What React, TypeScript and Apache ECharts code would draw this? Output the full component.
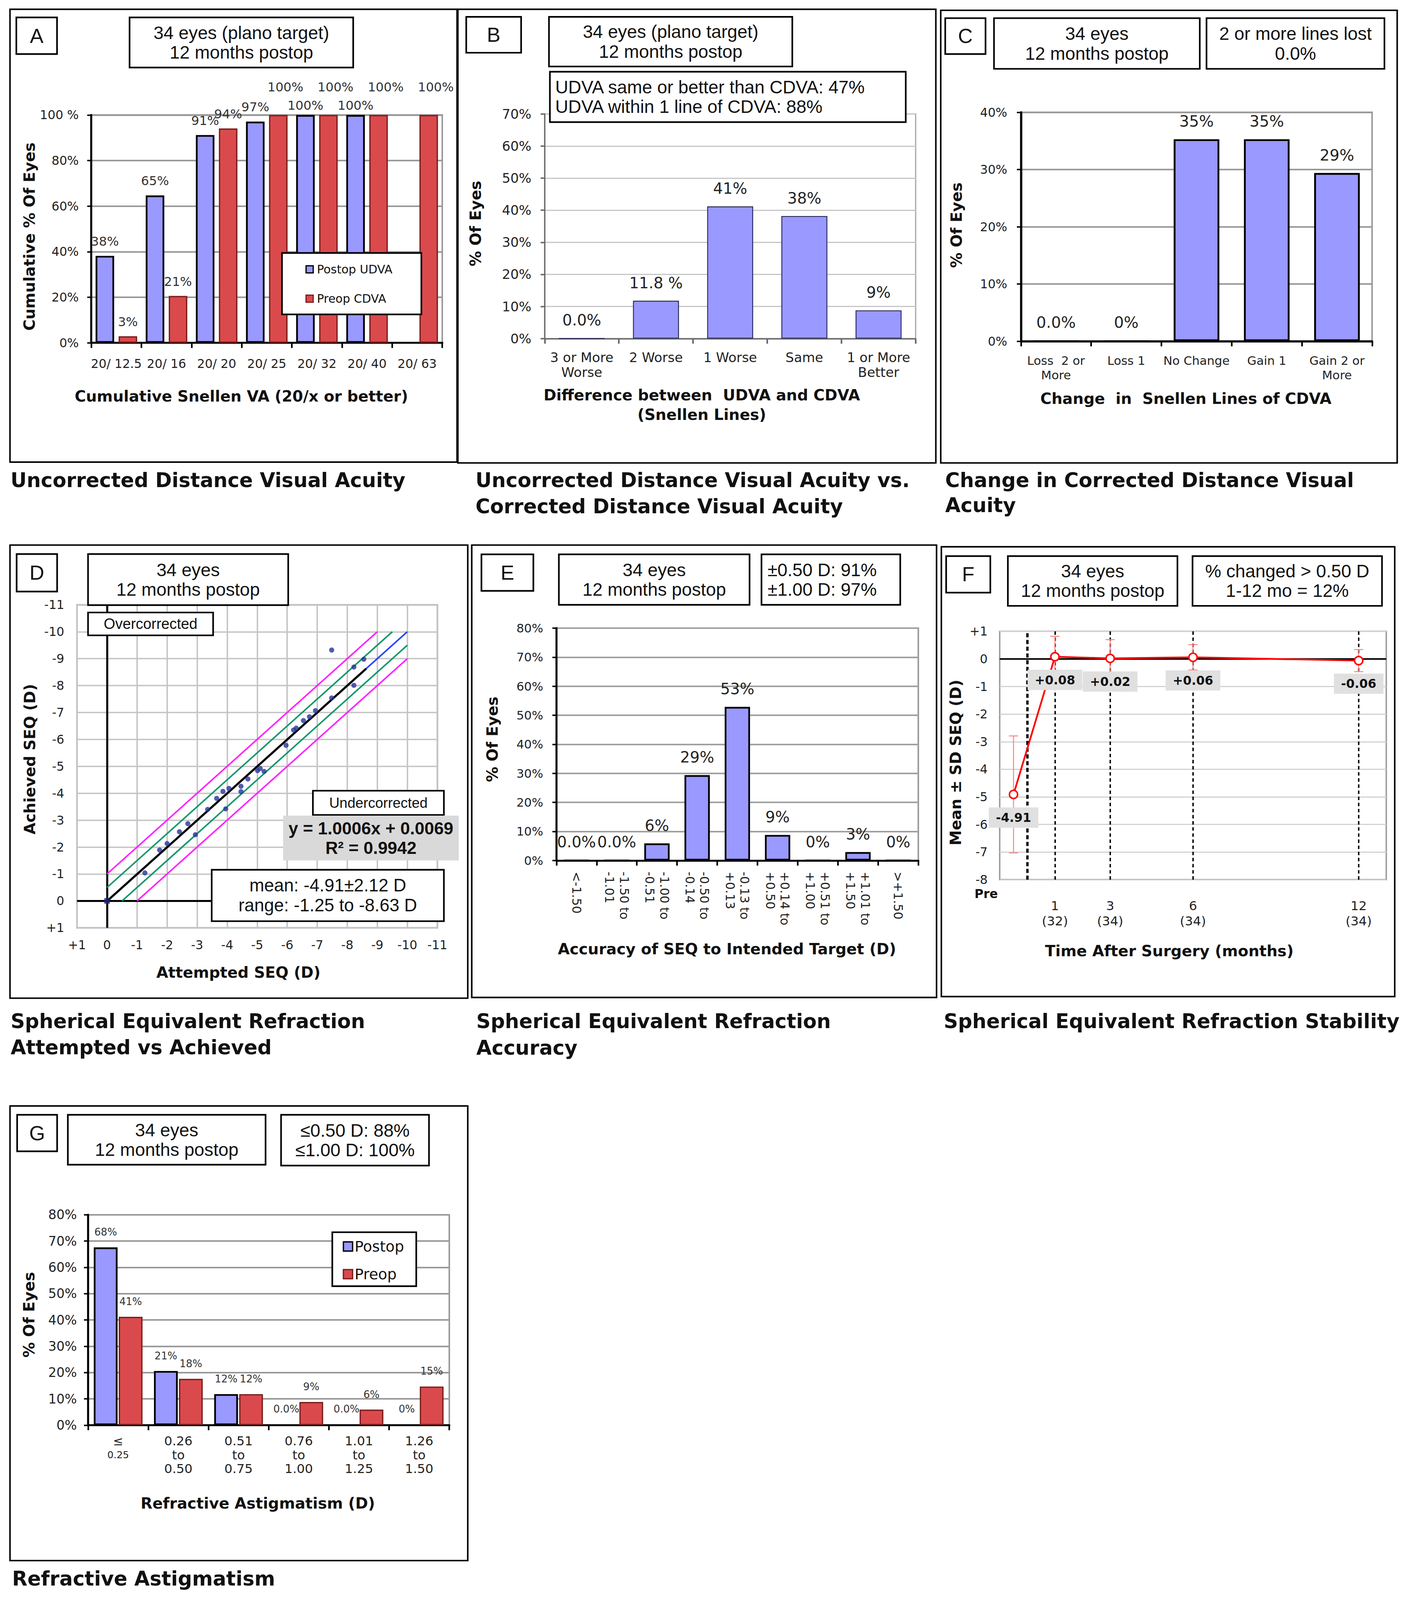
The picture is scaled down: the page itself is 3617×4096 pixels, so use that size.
import React, { useEffect, useRef } from 'react';
import * as echarts from 'echarts';

const W = 3617;
const H = 4096;
const K = W / 1385;
const p = (v: number): number => v * K;

const FONT = 'DejaVu Sans';
const ARIAL = 'Liberation Sans';
const BLUE = '#9999FF';
const RED = '#DA4A4C';
const RED_EDGE = '#7d1e1e';
const INK = '#222222';

// ---------------- Panel A: cumulative UDVA ----------------
const categoriesA = ['20/ 12.5', '20/ 16', '20/ 20', '20/ 25', '20/ 32', '20/ 40', '20/ 63'];
const postopUdvaA: (number | null)[] = [38.2, 64.7, 91.2, 97.1, 100, 100, null];
const preopCdvaA = [2.9, 20.6, 94.1, 100, 100, 100, 100];
const yTicksA = ['0%', '20%', '40%', '60%', '80%', '100 %'];

// ---------------- Panel B: UDVA vs CDVA ----------------
const categoriesB = ['3 or More\nWorse', '2 Worse', '1 Worse', 'Same', '1 or More\nBetter'];
const valuesB = [0, 11.8, 41.2, 38.2, 8.8];
const labelsB = ['0.0%', '11.8 %', '41%', '38%', '9%'];

// ---------------- Panel C: change in CDVA ----------------
const categoriesC = ['Loss  2 or\nMore', 'Loss 1', 'No Change', 'Gain 1', 'Gain 2 or\nMore'];
const valuesC = [0, 0, 35.3, 35.3, 29.4];
const labelsC = ['0.0%', '0%', '35%', '35%', '29%'];

// ---------------- Panel D: attempted vs achieved ----------------
const attemptedD = [-1.26, -1.75, -2.0, -2.41, -2.69, -2.94, -3.35, -3.65, -3.86, -3.95, -4.06, -4.46, -4.46, -4.69, -5.01, -5.1, -5.23, -5.96, -6.21, -6.3, -6.54, -6.74, -6.94, -7.48, -7.48, -8.22, -8.22, -8.55];
const achievedD = [-1.04, -1.89, -2.13, -2.57, -2.87, -2.46, -3.4, -3.81, -4.07, -3.42, -4.18, -4.26, -4.06, -4.53, -4.84, -4.92, -4.81, -5.78, -6.35, -6.42, -6.7, -6.84, -7.07, -7.54, -9.32, -8.69, -8.01, -8.98];
const originD = [[0, 0]];
const regressionSlopeD = 1.0006;
const regressionInterceptD = 0.0069;
const regressionEndD = -8.63;
const bandOffsetsD = [-1, -0.5, 0, 0.5, 1];
const bandColorsD = ['#ff22ff', '#13976a', '#2244ff', '#13976a', '#ff22ff'];

// ---------------- Panel E: SEQ accuracy ----------------
const categoriesE = ['<-1.50', '-1.50 to\n-1.01', '-1.00 to\n-0.51', '-0.50 to\n-0.14', '-0.13 to\n+0.13', '+0.14 to\n+0.50', '+0.51 to\n+1.00', '+1.01 to\n+1.50', '>+1.50'];
const valuesE = [0, 0, 5.9, 29.4, 52.9, 8.8, 0, 2.9, 0];
const labelsE = ['0.0%', '0.0%', '6%', '29%', '53%', '9%', '0%', '3%', '0%'];

// ---------------- Panel F: stability ----------------
const monthsF = [-0.5, 1, 3, 6, 12];
const meanF = [-4.91, 0.08, 0.02, 0.06, -0.06];
const sdF = [2.12, 0.74, 0.68, 0.46, 0.4];
const labelsF = ['-4.91', '+0.08', '+0.02', '+0.06', '-0.06'];
const tickMonthsF = [1, 3, 6, 12];
const tickEyesF = [32, 34, 34, 34];
const dashedMonthsF = [0, 1, 3, 6, 12];

// ---------------- Panel G: astigmatism ----------------
const categoriesG = ['≤ 0.25', '0.26 to 0.50', '0.51 to 0.75', '0.76 to 1.00', '1.01 to 1.25', '1.26 to 1.50'];
const postopG = [67.6, 20.6, 11.8, 0, 0, 0];
const preopG = [41.2, 17.6, 11.8, 8.8, 5.9, 14.7];
const labelsPostopG = ['68%', '21%', '12%', '0.0%', '0.0%', '0%'];
const labelsPreopG = ['41%', '18%', '12%', '9%', '6%', '15%'];

// ---------------- helpers ----------------
const pct = (v: number) => `${v}%`;
const signed = (v: number) => (v > 0 ? `+${v}` : `${v}`);

function gridBox(x1: number, y1: number, x2: number, y2: number, color: string, w: number) {
  return {
    left: p(x1), top: p(y1), width: p(x2 - x1), height: p(y2 - y1),
    show: true, borderColor: color, borderWidth: p(w), backgroundColor: 'rgba(0,0,0,0)',
    containLabel: false, outerBoundsMode: 'none',
  };
}

function catAxis(grid: number, data: string[], o: any = {}) {
  const c = o.axisColor ?? '#000';
  return {
    gridIndex: grid, type: 'category', data,
    axisLine: { show: true, lineStyle: { color: c, width: p(o.axisW ?? 2) } },
    axisTick: { show: true, interval: 0, length: p(5), lineStyle: { color: c, width: p(1.6) } },
    axisLabel: {
      interval: 0, fontSize: p(o.size ?? 12), margin: p(o.margin ?? 12), color: INK,
      lineHeight: p(o.lh ?? 15), rotate: o.rotate ?? 0, fontFamily: FONT,
      ...(o.formatter ? { formatter: o.formatter } : {}),
      ...(o.rich ? { rich: o.rich } : {}),
    },
    splitLine: { show: false },
  };
}

function valAxis(grid: number, min: number, max: number, interval: number, o: any = {}) {
  const c = o.axisColor ?? '#000';
  return {
    gridIndex: grid, type: 'value', min, max, interval, inverse: !!o.inverse,
    axisLine: { show: o.axisLine !== false, lineStyle: { color: c, width: p(o.axisW ?? 2) } },
    axisTick: { show: o.ticks !== false, length: p(4), lineStyle: { color: c, width: p(1.4) } },
    axisLabel: { fontSize: p(o.size ?? 12), margin: p(o.margin ?? 12), color: INK, fontFamily: FONT, formatter: o.formatter ?? pct },
    splitLine: { show: o.split !== false, lineStyle: { color: o.splitColor ?? '#999', width: p(o.splitW ?? 1.5) } },
  };
}

function rect(x1: number, y1: number, x2: number, y2: number, o: any = {}) {
  return {
    type: 'rect', z: o.z ?? 100,
    shape: { x: p(x1), y: p(y1), width: p(x2 - x1), height: p(y2 - y1) },
    style: { fill: o.fill ?? '#fff', stroke: o.stroke ?? '#000', lineWidth: p(o.lw ?? 1.6) },
  };
}

function txt(x: number, y: number, t: string, size: number, o: any = {}) {
  return {
    type: 'text', z: o.z ?? 101, x: p(x), y: p(y), rotation: o.rot ?? 0,
    style: {
      text: t, fontSize: p(size), fontFamily: o.family ?? FONT,
      fontWeight: o.bold ? 'bold' : 'normal', fill: o.color ?? '#111',
      align: o.align ?? 'center', verticalAlign: 'middle', lineHeight: p(o.lh ?? size * 1.2),
    },
  };
}

function box(x1: number, y1: number, x2: number, y2: number, lines: string[], o: any = {}) {
  const left = o.align === 'left';
  return [
    rect(x1, y1, x2, y2, { fill: o.fill, stroke: o.stroke, lw: o.lw }),
    txt(left ? x1 + (o.pad ?? 5.5) : (x1 + x2) / 2, (y1 + y2) / 2, lines.join('\n'), o.size ?? 17.7, {
      family: ARIAL, lh: o.lh ?? 19.3, align: left ? 'left' : 'center', bold: o.bold,
    }),
  ];
}

function barLabel(size: number, formatter: any, extra: any = {}) {
  return { show: true, position: 'top', distance: p(8), fontSize: p(size), color: '#333', fontFamily: FONT, formatter, ...extra };
}

function bandLine(c: number) {
  const x1 = c > 0 ? -c : 0;
  const x2 = c < 0 ? -10 - c : -10;
  return [[x1, x1 + c], [x2, x2 + c]];
}

function buildOption(): any {
  const grids = [
    gridBox(89.5, 112.7, 433.5, 336.1, '#999', 1.5),
    gridBox(533.9, 111.7, 897.5, 331.9, '#a8a8a8', 1.2),
    gridBox(1000.7, 110.1, 1344.9, 334.5, '#999', 1.5),
    gridBox(75.5, 592.9, 428.7, 909.5, '#aaa', 1.5),
    gridBox(545.4, 615.7, 900.1, 843.5, '#999', 1.5),
    gridBox(979.9, 618.9, 1358.8, 862.3, '#9a9a9a', 1.4),
    gridBox(86.3, 1190.8, 440.4, 1397.0, '#999', 1.5),
  ];

  const xAxis = [
    catAxis(0, categoriesA, { size: 12, margin: 13 }),
    catAxis(1, categoriesB, { size: 13, margin: 11, lh: 14.7, axisColor: '#6a6a6a', axisW: 1.3 }),
    catAxis(2, categoriesC, { size: 11.8, margin: 12, lh: 14.1, axisW: 2.2 }),
    {
      gridIndex: 3, type: 'value', min: -11, max: 1, interval: 1, inverse: true,
      axisLine: { show: false }, axisTick: { show: false },
      axisLabel: { fontSize: p(12), margin: p(11), color: INK, fontFamily: FONT, formatter: signed },
      splitLine: { show: true, lineStyle: { color: '#c4c4c4', width: p(1.4) } },
    },
    catAxis(4, categoriesE, { size: 12, margin: 11, lh: 14.5, rotate: -90 }),
    {
      gridIndex: 5, type: 'value', min: -1, max: 13, interval: 1,
      axisLine: { show: false }, axisTick: { show: false },
      axisLabel: {
        fontSize: p(12.5), margin: p(18), lineHeight: p(15), color: INK, fontFamily: FONT,
        showMinLabel: true, showMaxLabel: true,
        formatter: (v: number) => {
          const i = tickMonthsF.indexOf(v);
          return i < 0 ? '' : `${v}\n(${tickEyesF[i]})`;
        },
      },
      splitLine: { show: false },
    },
    catAxis(6, categoriesG, {
      size: 12.5, margin: 9, lh: 13.5,
      formatter: (v: string, i: number) => (i === 0 ? '{a|≤}\n{b|0.25}' : v.replace(/ /g, '\n')),
      rich: {
        a: { fontSize: p(12), lineHeight: p(13.5), color: INK, fontFamily: FONT },
        b: { fontSize: p(9.5), lineHeight: p(13), color: INK, fontFamily: FONT },
      },
    }),
  ];

  const yAxis = [
    valAxis(0, 0, 100, 20, { formatter: (v: number) => yTicksA[Math.round(v / 20)], margin: 12.3 }),
    valAxis(1, 0, 70, 10, { size: 13, margin: 13, axisColor: '#6a6a6a', axisW: 1.3, splitColor: '#c6c6c6', splitW: 1.2 }),
    valAxis(2, 0, 40, 10, { size: 12, margin: 13.4, axisW: 2.2 }),
    valAxis(3, -11, 1, 1, { inverse: true, axisLine: false, ticks: false, formatter: signed, margin: 12.5, splitColor: '#c4c4c4', splitW: 1.4 }),
    valAxis(4, 0, 80, 10, { size: 11.8, margin: 13, splitColor: '#a0a0a0' }),
    valAxis(5, -8, 1, 1, { axisLine: false, ticks: false, formatter: signed, margin: 11.8, splitColor: '#d2d2d2', splitW: 1.1 }),
    valAxis(6, 0, 80, 10, { size: 12.6, margin: 11 }),
  ];

  const roundPct = (d: any) => `${Math.round(d.value)}%`;

  const series: any[] = [
    // A
    {
      type: 'bar', name: 'Postop UDVA', xAxisIndex: 0, yAxisIndex: 0,
      data: postopUdvaA.map((v) => (v === null ? '-' : v >= 100 ? { value: v, label: { distance: p(3) } } : v)),
      barWidth: '37%', barGap: '24%',
      itemStyle: { color: BLUE, borderColor: '#000', borderWidth: p(1.7) },
      label: barLabel(12.3, roundPct),
    },
    {
      type: 'bar', name: 'Preop CDVA', xAxisIndex: 0, yAxisIndex: 0,
      data: preopCdvaA.map((v) => (v >= 100 ? { value: v, label: { distance: p(21), offset: [p(7), 0] } } : v)),
      barWidth: '37%', barGap: '24%',
      itemStyle: { color: RED, borderColor: RED_EDGE, borderWidth: p(1.3) },
      label: barLabel(12.3, roundPct),
    },
    // B
    {
      type: 'bar', name: 'B', xAxisIndex: 1, yAxisIndex: 1, data: valuesB, barWidth: '62%',
      itemStyle: { color: BLUE, borderColor: '#2b2b5a', borderWidth: p(0.9) },
      label: barLabel(15, (d: any) => labelsB[d.dataIndex], { distance: p(10), color: '#222' }),
    },
    // C
    {
      type: 'bar', name: 'C', xAxisIndex: 2, yAxisIndex: 2, data: valuesC, barWidth: '65%',
      itemStyle: { color: BLUE, borderColor: '#000', borderWidth: p(1.8) },
      label: barLabel(15.2, (d: any) => labelsC[d.dataIndex], { distance: p(10), color: '#222' }),
    },
  ];

  // D band lines
  bandOffsetsD.forEach((c, i) => {
    series.push({
      type: 'line', name: `band${i}`, xAxisIndex: 3, yAxisIndex: 3, data: bandLine(c),
      symbol: 'none', silent: true, z: 3,
      lineStyle: { color: bandColorsD[i], width: p(1.5) },
      ...(c === 0
        ? {
            markLine: {
              silent: true, symbol: 'none', z: 2, label: { show: false },
              lineStyle: { color: '#000', width: p(2), type: 'solid' },
              data: [{ xAxis: 0 }, { yAxis: 0 }],
            },
          }
        : {}),
    });
  });
  series.push({
    type: 'line', name: 'regression', xAxisIndex: 3, yAxisIndex: 3, symbol: 'none', silent: true, z: 4,
    data: [[0, regressionInterceptD], [regressionEndD, regressionSlopeD * regressionEndD + regressionInterceptD]],
    lineStyle: { color: '#000', width: p(2.1) },
  });
  series.push({
    type: 'scatter', name: 'eyes', xAxisIndex: 3, yAxisIndex: 3, z: 5,
    data: attemptedD.map((x, i) => [x, achievedD[i]]),
    symbolSize: p(5), itemStyle: { color: '#26339a' },
  });
  series.push({
    type: 'scatter', name: 'origin', xAxisIndex: 3, yAxisIndex: 3, z: 5, data: originD,
    symbol: 'rect', symbolSize: p(5.5), itemStyle: { color: '#1a237e' },
  });

  // E
  series.push({
    type: 'bar', name: 'E', xAxisIndex: 4, yAxisIndex: 4, data: valuesE, barWidth: '63%',
    itemStyle: { color: BLUE, borderColor: '#000', borderWidth: p(1.7) },
    label: barLabel(15, (d: any) => labelsE[d.dataIndex], { distance: p(10), color: '#222' }),
  });

  // F
  series.push({
    type: 'custom', name: 'sd', xAxisIndex: 5, yAxisIndex: 5, z: 3, silent: true,
    data: monthsF.map((m, i) => [m, meanF[i] - sdF[i], meanF[i] + sdF[i]]),
    encode: { x: 0, y: [1, 2] },
    renderItem: (params: any, api: any) => {
      const lo = api.coord([api.value(0), api.value(1)]);
      const hi = api.coord([api.value(0), api.value(2)]);
      const hw = p(4.5);
      const style = { stroke: '#ff7b7b', lineWidth: p(0.9), fill: 'none' };
      return {
        type: 'group',
        children: [
          { type: 'line', shape: { x1: lo[0], y1: lo[1], x2: hi[0], y2: hi[1] }, style },
          { type: 'line', shape: { x1: lo[0] - hw, y1: lo[1], x2: lo[0] + hw, y2: lo[1] }, style },
          { type: 'line', shape: { x1: hi[0] - hw, y1: hi[1], x2: hi[0] + hw, y2: hi[1] }, style },
        ],
      };
    },
  });
  series.push({
    type: 'line', name: 'mean SEQ', xAxisIndex: 5, yAxisIndex: 5, z: 6,
    data: monthsF.map((m, i) => [m, meanF[i]]),
    symbol: 'circle', symbolSize: p(8), showSymbol: true,
    lineStyle: { color: '#ff0000', width: p(1.7) },
    itemStyle: { color: '#ffffff', borderColor: '#ff0000', borderWidth: p(1.5) },
    label: {
      show: true, position: 'bottom', distance: p(8), formatter: (d: any) => labelsF[d.dataIndex],
      backgroundColor: '#e0e0e0', padding: [p(4), p(7)], fontWeight: 'bold', fontSize: p(12),
      color: '#111', fontFamily: FONT,
    },
    markLine: {
      silent: true, symbol: 'none', z: 1, label: { show: false },
      data: [
        { yAxis: 0, lineStyle: { color: '#000', width: p(1.6), type: 'solid' } },
        ...dashedMonthsF.map((m) => ({
          xAxis: m,
          lineStyle: { color: '#000', width: m === 0 ? p(2.3) : p(1.4), type: m === 0 ? [p(4), p(2.6)] : [p(3.4), p(2.6)] },
        })),
      ],
    },
  });

  // G
  series.push({
    type: 'bar', name: 'Postop', xAxisIndex: 6, yAxisIndex: 6, data: postopG,
    barWidth: '39.5%', barGap: '5%',
    itemStyle: { color: BLUE, borderColor: '#000', borderWidth: p(1.7) },
    label: barLabel(10, (d: any) => labelsPostopG[d.dataIndex], { distance: p(10) }),
  });
  series.push({
    type: 'bar', name: 'Preop', xAxisIndex: 6, yAxisIndex: 6, data: preopG,
    barWidth: '39.5%', barGap: '5%',
    itemStyle: { color: RED, borderColor: RED_EDGE, borderWidth: p(1.3) },
    label: barLabel(10, (d: any) => labelsPreopG[d.dataIndex], { distance: p(10) }),
  });

  // ---------------- graphic ----------------
  const el: any[] = [];
  const panel = (x1: number, y1: number, x2: number, y2: number) =>
    el.push(rect(x1, y1, x2, y2, { fill: 'none', lw: 1.5, z: 1 }));
  const letter = (x1: number, y1: number, x2: number, y2: number, t: string) =>
    el.push(...box(x1, y1, x2, y2, [t], { size: 20 }));
  const yTitle = (x: number, y: number, t: string) => el.push(txt(x, y, t, 15, { bold: true, rot: Math.PI / 2 }));
  const xTitle = (x: number, y: number, t: string, lh = 19.2) => el.push(txt(x, y, t, 15, { bold: true, lh }));
  const caption = (x: number, y: number, t: string, lh = 25.5) => el.push(txt(x, y, t, 19.5, { bold: true, align: 'left', lh }));

  // Panel A
  panel(9.8, 9.1, 448, 453);
  letter(16, 17.1, 55.9, 53, 'A');
  el.push(...box(127, 17.1, 346.2, 66.2, ['34 eyes (plano target)', '12 months postop']));
  yTitle(28.8, 231.9, 'Cumulative % Of Eyes');
  xTitle(236.6, 388.4, 'Cumulative Snellen VA (20/x or better)');
  caption(10.3, 470.8, 'Uncorrected Distance Visual Acuity');
  el.push(rect(276.4, 248, 413, 308.2, { lw: 1.6 }));
  el.push(rect(300, 260.5, 307, 267.5, { fill: BLUE, lw: 1.2, z: 102 }));
  el.push(txt(310.6, 264, 'Postop UDVA', 11.5, { align: 'left', z: 102 }));
  el.push(rect(300, 289.3, 307, 296.3, { fill: RED, stroke: RED_EDGE, lw: 1.2, z: 102 }));
  el.push(txt(310.6, 292.8, 'Preop CDVA', 11.5, { align: 'left', z: 102 }));

  // Panel B
  panel(448.8, 9.1, 917.3, 453.8);
  letter(457, 16.5, 510.8, 51.7, 'B');
  el.push(...box(538.1, 16.5, 776.6, 65.2, ['34 eyes (plano target)', '12 months postop']));
  el.push(...box(539, 70.3, 887.8, 119.7, ['UDVA same or better than CDVA: 47%', 'UDVA within 1 line of CDVA: 88%'], { align: 'left', pad: 5.2 }));
  yTitle(466.1, 219.1, '% Of Eyes');
  xTitle(687.9, 397, 'Difference between  UDVA and CDVA\n(Snellen Lines)');
  caption(466.1, 483.6, 'Uncorrected Distance Visual Acuity vs.\nCorrected Distance Visual Acuity', 25.6);

  // Panel C
  panel(922.1, 10.1, 1369.5, 453.8);
  letter(926.5, 17.8, 966, 53, 'C');
  el.push(...box(974.3, 17.8, 1176, 67.5, ['34 eyes', '12 months postop']));
  el.push(...box(1182.6, 17.8, 1357, 67.5, ['2 or more lines lost', '0.0%']));
  yTitle(937.5, 220.7, '% Of Eyes');
  xTitle(1162.4, 390.6, 'Change  in  Snellen Lines of CDVA');
  caption(926.5, 483.1, 'Change in Corrected Distance Visual\nAcuity', 24.6);

  // Panel D
  panel(9.8, 534.3, 458.5, 978.5);
  letter(16.3, 543.1, 56, 579.9, 'D');
  el.push(...box(86.3, 543.1, 282.5, 593.2, ['34 eyes', '12 months postop']));
  el.push(...box(86.3, 600.4, 208.9, 622.8, ['Overcorrected'], { size: 14.5 }));
  el.push(...box(306.7, 775.1, 435.1, 798.9, ['Undercorrected'], { size: 14 }));
  el.push(...box(277.5, 799.5, 449.7, 843.5, ['y = 1.0006x + 0.0069', 'R² = 0.9942'], { fill: '#d9d9d9', stroke: 'none', lw: 0, bold: true, size: 17 }));
  el.push(...box(207.5, 852.6, 435.1, 903, ['mean: -4.91±2.12 D', 'range: -1.25 to -8.63 D'], { size: 17.4, lh: 19.6 }));
  yTitle(29.4, 744.2, 'Achieved SEQ (D)');
  xTitle(233.7, 953.1, 'Attempted SEQ (D)');
  caption(10.4, 1014, 'Spherical Equivalent Refraction\nAttempted vs Achieved', 25.4);

  // Panel E
  panel(462.4, 534.3, 918, 977.8);
  letter(471.9, 543.4, 522.8, 579.2, 'E');
  el.push(...box(547.8, 543.4, 734.7, 592.9, ['34 eyes', '12 months postop']));
  el.push(...box(746.4, 543.4, 882.4, 592.9, ['±0.50 D: 91%', '±1.00 D: 97%'], { align: 'left', pad: 5.9 }));
  yTitle(482.5, 724.7, '% Of Eyes');
  xTitle(712.6, 930.3, 'Accuracy of SEQ to Intended Target (D)');
  caption(466.9, 1014.3, 'Spherical Equivalent Refraction\nAccuracy', 26);

  // Panel F
  panel(922.7, 536, 1367.1, 976.9);
  letter(927.4, 545.1, 970.7, 580.9, 'F');
  el.push(...box(987.9, 545.1, 1154.1, 593.9, ['34 eyes', '12 months postop']));
  el.push(...box(1168.9, 545.1, 1354.6, 593.9, ['% changed > 0.50 D', '1-12 mo = 12%']));
  yTitle(936.9, 747.5, 'Mean ± SD SEQ (D)');
  xTitle(1146.1, 932.3, 'Time After Surgery (months)');
  el.push(txt(966.6, 876, 'Pre', 12, { bold: true }));
  caption(925, 1001.3, 'Spherical Equivalent Refraction Stability');

  // Panel G
  panel(9.8, 1084.1, 458.5, 1529.8);
  letter(16.8, 1092.8, 56, 1128.6, 'G');
  el.push(...box(66.5, 1092.8, 260.3, 1141.7, ['34 eyes', '12 months postop']));
  el.push(...box(275.5, 1092.8, 420.5, 1142.6, ['≤0.50 D: 88%', '≤1.00 D: 100%']));
  yTitle(28.5, 1288.8, '% Of Eyes');
  xTitle(252.7, 1473.8, 'Refractive Astigmatism (D)');
  caption(11.9, 1547.5, 'Refractive Astigmatism');
  el.push(rect(325.7, 1207.9, 408, 1260.8, { lw: 1.6 }));
  el.push(rect(336.6, 1217.4, 345.6, 1226.4, { fill: BLUE, lw: 1.3, z: 102 }));
  el.push(txt(347.6, 1221.9, 'Postop', 14.5, { align: 'left', z: 102 }));
  el.push(rect(336.6, 1244.5, 345.6, 1253.5, { fill: RED, stroke: RED_EDGE, lw: 1.3, z: 102 }));
  el.push(txt(347.6, 1249, 'Preop', 14.5, { align: 'left', z: 102 }));

  return {
    animation: false,
    backgroundColor: '#ffffff',
    textStyle: { fontFamily: FONT },
    grid: grids,
    xAxis,
    yAxis,
    series,
    graphic: { elements: el },
  };
}

export default function App() {
  const ref = useRef<HTMLDivElement>(null);
  useEffect(() => {
    document.body.style.margin = '0';
    const chart = echarts.init(ref.current as HTMLDivElement, null, { renderer: 'svg', width: W, height: H });
    chart.setOption(buildOption());
    return () => chart.dispose();
  }, []);
  return <div ref={ref} style={{ width: W, height: H, background: '#fff' }} />;
}
